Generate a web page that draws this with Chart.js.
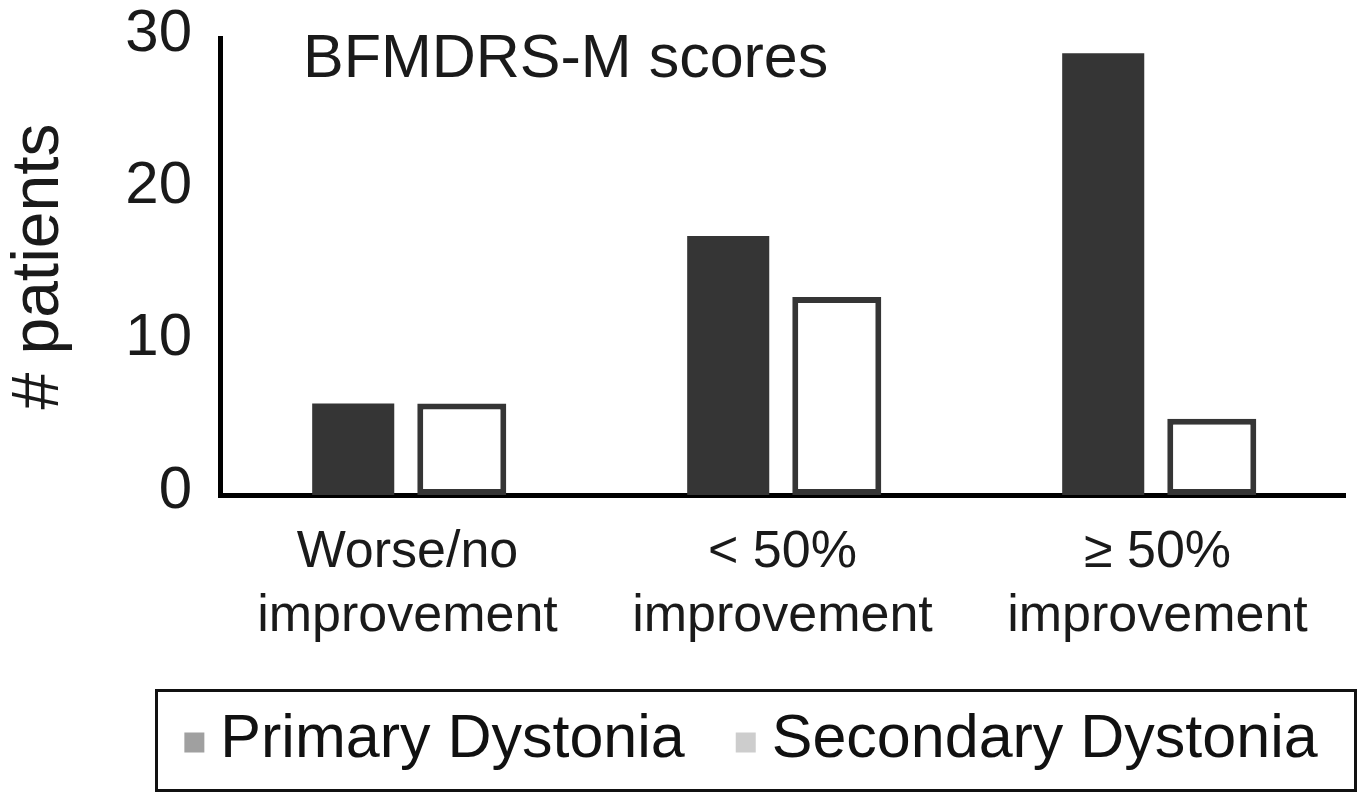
<!DOCTYPE html>
<html><head><meta charset="utf-8">
<script src="https://cdn.jsdelivr.net/npm/chart.js@4.4.1/dist/chart.umd.min.js"></script>
<style>html,body{margin:0;padding:0;background:#fff;overflow:hidden}#wrap{width:1360px;height:795px;position:relative}</style>
</head><body><div id="wrap"><canvas id="c" width="1360" height="795"></canvas></div>
<script>
const categories = [["Worse/no", "improvement"], ["< 50%", "improvement"], ["\u2265 50%", "improvement"]];
const seriesNames = ["Primary Dystonia", "Secondary Dystonia"];
const primaryValues = [6, 17, 29];
const secondaryValues = [6, 13, 5];
const yTicks = [0, 10, 20, 30];
const chartTitle = "BFMDRS-M scores";
const yAxisTitle = "# patients";

const FONT = "'Liberation Sans', Arial, sans-serif";

const overlay = {
  id: 'overlay',
  afterDraw(chart) {
    const {ctx, chartArea} = chart;
    ctx.save();
    ctx.fillStyle = '#1a1a1a';
    ctx.font = `61px ${FONT}`;
    ctx.textBaseline = 'alphabetic';
    ctx.textAlign = 'left';
    ctx.fillText(chartTitle, chartArea.left + 83, chartArea.top + 39);

    const box = {x: 155, y: 689, w: 1202, h: 103};
    ctx.lineWidth = 3;
    ctx.strokeStyle = '#111';
    ctx.strokeRect(box.x + 1.5, box.y + 1.5, box.w - 3, box.h - 3);
    ctx.font = `61px ${FONT}`;
    const mk = 20, gapMT = 16, gapItems = 51;
    const items = chart.data.datasets.map(d => ({label: d.label, color: d.legendColor, w: ctx.measureText(d.label).width}));
    const total = items.reduce((s, it) => s + mk + gapMT + it.w, 0) + gapItems * (items.length - 1);
    let x = box.x + (box.w - total) / 2 - 5;
    const cy = box.y + box.h / 2;
    ctx.textBaseline = 'middle';
    items.forEach(it => {
      ctx.fillStyle = it.color;
      ctx.fillRect(x, cy - 8, mk, mk);
      x += mk + gapMT;
      ctx.fillStyle = '#111';
      ctx.fillText(it.label, x, cy);
      x += it.w + gapItems;
    });
    ctx.restore();
  }
};

new Chart(document.getElementById('c').getContext('2d'), {
  type: 'bar',
  data: {
    labels: categories,
    datasets: [
      {label: seriesNames[0], data: primaryValues, backgroundColor: '#353535', borderWidth: 0,
       barPercentage: 0.756, categoryPercentage: 0.579, legendColor: '#a0a0a0'},
      {label: seriesNames[1], data: secondaryValues, backgroundColor: '#ffffff', borderColor: '#353535',
       borderWidth: 6, borderSkipped: false, barPercentage: 0.82, categoryPercentage: 0.579, legendColor: '#cdcdcd'}
    ]
  },
  options: {
    responsive: false,
    animation: false,
    layout: {padding: {left: 0, right: 15, top: 38, bottom: 106}},
    plugins: {legend: {display: false}, tooltip: {enabled: false}, title: {display: false}},
    scales: {
      x: {
        z: 1,
        grid: {display: false, drawTicks: false},
        border: {display: true, color: '#000', width: 5},
        ticks: {font: {family: FONT, size: 52, lineHeight: 1.23}, color: '#1a1a1a', padding: 26, maxRotation: 0, autoSkip: false},
        afterFit(s) { s.height = 194; s.paddingLeft = 0; s.paddingRight = 0; }
      },
      y: {
        z: 1,
        min: 0, max: 30,
        grid: {display: false, drawTicks: false},
        border: {display: true, color: '#000', width: 5},
        ticks: {stepSize: 10, font: {family: FONT, size: 60}, color: '#1a1a1a', padding: 28, labelOffset: -4},
        afterBuildTicks(s) { s.ticks = yTicks.map(v => ({value: v})); },
        title: {display: true, text: yAxisTitle, font: {family: FONT, size: 66, lineHeight: 1.2}, color: '#1a1a1a', padding: 0},
        afterFit(s) { s.width = 220; s.paddingTop = 0; s.paddingBottom = 0; }
      }
    }
  },
  plugins: [overlay]
});
</script>
</body></html>
